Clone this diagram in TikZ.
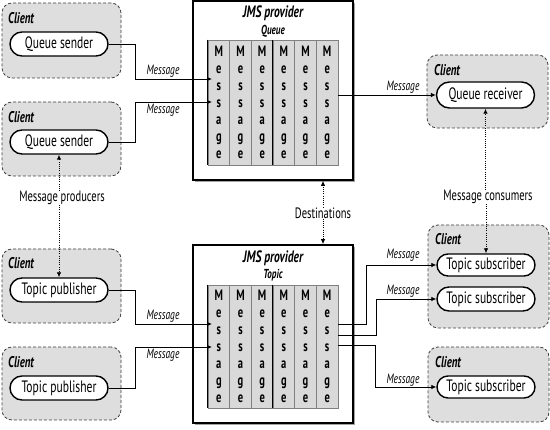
\documentclass[tikz,border=0pt]{standalone}
\usepackage{fontspec}
\setmainfont{PT Sans}[FakeStretch=0.7]
\usetikzlibrary{arrows.meta,shadows,shapes.misc}
\begin{document}
\begin{tikzpicture}[x=1pt,y=-1pt,
  client/.style={draw=black!75, dash pattern=on 3pt off 2pt, line width=0.8pt, rounded corners=10pt, fill=black!13, inner sep=0pt},
  clientlbl/.style={anchor=west, font=\fontsize{15.5}{17}\selectfont\bfseries\itshape, inner sep=0pt},
  pill/.style={draw, line width=1.4pt, rounded rectangle, fill=white, minimum width=98pt, minimum height=24pt, inner sep=0pt, font=\fontsize{16.5}{18}\selectfont},
  jms/.style={draw, line width=1.7pt, fill=white, inner sep=0pt, drop shadow={shadow xshift=2pt, shadow yshift=-2pt, fill=black!45, opacity=0.8}},
  jmstitle/.style={font=\fontsize{16.5}{18}\selectfont\bfseries\itshape, inner sep=0pt},
  jmssub/.style={font=\fontsize{13}{15}\selectfont\bfseries\itshape, inner sep=0pt},
  col/.style={draw=black!50, line width=0.8pt, fill=black!15, minimum width=21.67pt, inner sep=0pt, align=center, font=\fontsize{15}{17.1}\selectfont\bfseries},
  msglbl/.style={font=\fontsize{13.5}{15}\selectfont\itshape, inner sep=0pt},
  lbl/.style={font=\fontsize{15}{17}\selectfont, inner sep=0pt, fill=white},
  conn/.style={line width=0.8pt},
  arr/.style={line width=0.8pt, -{Latex[length=5pt,width=4.5pt]}},
  dot/.style={line width=0.9pt, dash pattern=on 0.8pt off 1.4pt, -{Latex[length=5pt,width=4.5pt]}}
]
\useasboundingbox (0,0) rectangle (550,430);

% ---------- client boxes ----------
\node[client, minimum width=119pt, minimum height=75pt] (c1) at (61.5,40.5) {};
\node[client, minimum width=119pt, minimum height=74pt] (c2) at (61.5,139) {};
\node[client, minimum width=119pt, minimum height=74pt] (c3) at (61.5,286) {};
\node[client, minimum width=119pt, minimum height=73pt] (c4) at (61.5,383.5) {};
\node[client, minimum width=121pt, minimum height=73pt] (c5) at (487.5,91.5) {};
\node[client, minimum width=121pt, minimum height=103pt] (c6) at (488.5,276.5) {};
\node[client, minimum width=121pt, minimum height=75pt] (c7) at (488.5,384.5) {};

\node[clientlbl] (l1) at (8,18) {Client};
\node[clientlbl] (l2) at (8,117) {Client};
\node[clientlbl] (l3) at (8,263) {Client};
\node[clientlbl] (l4) at (8,362) {Client};
\node[clientlbl] (l5) at (434,70) {Client};
\node[clientlbl] (l6) at (435,239) {Client};
\node[clientlbl] (l7) at (435,362) {Client};

% ---------- pills ----------
\node[pill] (qs1) at (59,44) {Queue sender};
\node[pill] (qs2) at (59,142) {Queue sender};
\node[pill] (tp1) at (59,290) {Topic publisher};
\node[pill] (tp2) at (59,388) {Topic publisher};
\node[pill, minimum height=26pt] (qr) at (485.5,95) {Queue receiver};
\node[pill, minimum height=22pt] (ts1) at (486,265) {Topic subscriber};
\node[pill] (ts2) at (486,299) {Topic subscriber};
\node[pill, minimum height=22pt] (ts3) at (486,387) {Topic subscriber};

% ---------- JMS providers ----------
\node[jms, minimum width=160pt, minimum height=179pt] (qbox) at (273,90.5) {};
\node[jmstitle] (qt) at (273,13) {JMS provider};
\node[jmssub] (qs) at (273,31) {Queue};
\foreach \i in {0,...,5}{
  \node[col, minimum height=125pt] (qc\i) at ({208+21.667*\i+10.833},102.5) {M\\e\\s\\s\\a\\g\\e};
}
\draw[line width=0.9pt] (qc0.north west) -- (qc0.south west);
\draw[line width=0.9pt] (qc3.north west) -- (qc3.south west);

\node[jms, minimum width=160pt, minimum height=178pt] (tbox) at (273,334) {};
\node[jmstitle] (tt) at (273,258) {JMS provider};
\node[jmssub] (ts) at (273,275) {Topic};
\foreach \i in {0,...,5}{
  \node[col, minimum height=123pt] (tc\i) at ({208+21.667*\i+10.833},346.5) {M\\e\\s\\s\\a\\g\\e};
}
\draw[line width=0.9pt] (tc0.north west) -- (tc0.south west);
\draw[line width=0.9pt] (tc3.north west) -- (tc3.south west);

% ---------- connector end points ----------
\coordinate (qin1) at (212,79);
\coordinate (qin2) at (212,102);
\coordinate (qout) at (338,95);
\coordinate (tin1) at (212,324);
\coordinate (tin2) at (212,347);
\coordinate (tout1) at (338,324);
\coordinate (tout2) at (338,335);
\coordinate (tout3) at (338,345);

% ---------- message connectors ----------
\draw[arr] (qs1.east) -- ++(27,0) |- (qin1);
\draw[arr] (qs2.east) -- ++(27,0) |- (qin2);
\draw[arr] (tp1.east) -- ++(27,0) |- (tin1);
\draw[arr] (tp2.east) -- ++(27,0) |- (tin2);
\draw[arr] (qout) -- (qr.west);
\draw[arr] (tout1) -- ++(28,0) |- (ts1.west);
\draw[arr] (tout2) -- ++(38,0) |- (ts2.west);
\draw[arr] (tout3) -- ++(37,0) |- (ts3.west);

\node[msglbl] (m1) at (163,71) {Message};
\node[msglbl] (m2) at (163,110) {Message};
\node[msglbl] (m3) at (163,316) {Message};
\node[msglbl] (m4) at (163,355) {Message};
\node[msglbl] (m5) at (403,87) {Message};
\node[msglbl] (m6) at (403,255) {Message};
\node[msglbl] (m7) at (403,291) {Message};
\node[msglbl] (m8) at (403,380) {Message};

% ---------- dotted relations ----------
\node[lbl] (prod) at (62,198) {Message producers};
\node[lbl] (dest) at (323,213) {Destinations};
\node[lbl] (cons) at (488,197) {Message consumers};

\draw[dot] (prod.north -| qs2.south) -- (qs2.south);
\draw[dot] (prod.south -| tp1.north) -- (tp1.north);
\draw[dot] (dest.north) -- (dest.north |- qbox.south);
\draw[dot] (dest.south) -- (dest.south |- tbox.north);
\draw[dot] (cons.north -| qr.south) -- (qr.south);
\draw[dot] (cons.south -| ts1.north) -- (ts1.north);
\end{tikzpicture}
\end{document}
